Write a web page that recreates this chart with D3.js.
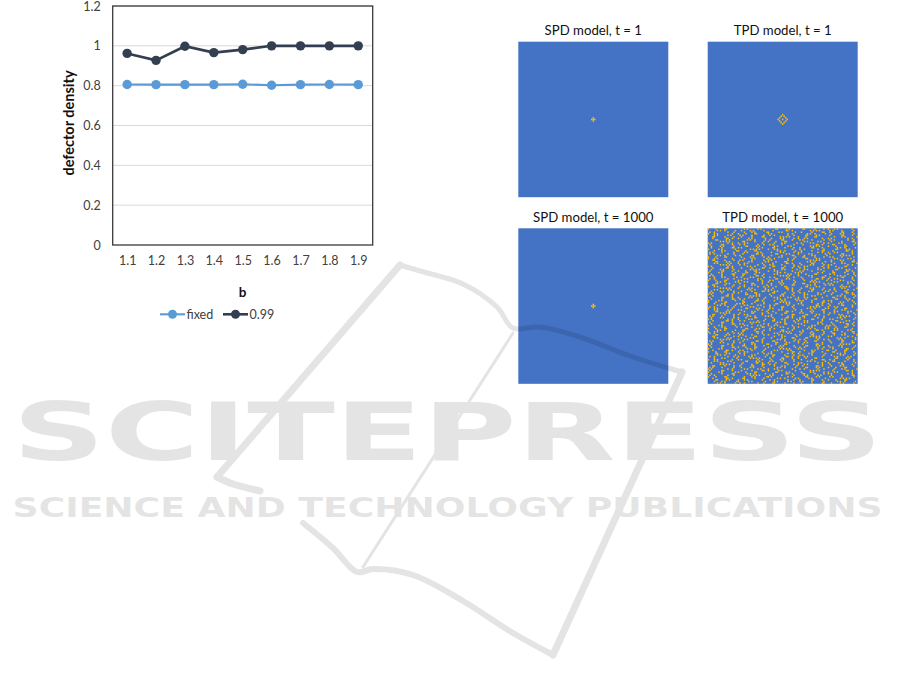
<!DOCTYPE html>
<html><head><meta charset="utf-8">
<script src="https://cdn.jsdelivr.net/npm/d3@7"></script>
<style>body{margin:0;background:#fff}svg{display:block}</style>
</head><body>
<svg id="c" width="901" height="691"></svg>
<script>
// ---------- data ----------
const bLabels = ["1.1","1.2","1.3","1.4","1.5","1.6","1.7","1.8","1.9"];
const fixedValues = [0.806,0.805,0.805,0.805,0.807,0.802,0.805,0.806,0.805];
const decayValues = [0.962,0.927,0.998,0.966,0.981,1.0,1.0,1.0,1.0];
const seriesNames = ["fixed","0.99"];
const yTicks = [0,0.2,0.4,0.6,0.8,1,1.2];
const yTickLabels = ["0","0.2","0.4","0.6","0.8","1","1.2"];
const xTitle = "b";
const yTitle = "defector density";

const panelTitles = ["SPD model, t = 1","TPD model, t = 1","SPD model, t = 1000","TPD model, t = 1000"];
// defector cells as offsets from the lattice centre
const spdT1Cells = [[0,0],[1,0],[-1,0],[0,1],[0,-1]];
const tpdT1Cells = [[0,0],[0,-3],[1,-2],[2,-1],[3,0],[2,1],[1,2],[0,3],[-1,2],[-2,1],[-3,0],[-2,-1],[-1,-2]];
const spdT1000Cells = [[0,0],[1,0],[-1,0],[0,1],[0,-1]];
// TPD t = 1000 lattice (100 x 100), encoded as rows of 20-cell tiles (x = defector)
const tpdTiles = {
  A:"x....x.....xx.......", B:"..x.....x.x......x..", C:".x..x........x...x..", D:"...xx......x.....x..",
  E:"x......x.x........x.", F:"....x.x......x.x....", G:".x.......xx.....x...", H:"......x.x..x......x.",
  I:"x.x..........x..x...", J:"....x....x.x.......x", K:".....xx.....x.x.....", L:"..x......x......xx..",
  M:"x...x.x.........x...", N:"...x........xx..x...", O:".x.x.....x.......x..", P:"........x.x.x.x....."
};
const tpdRows = ["AFKDM","HBNPO","CJELG","MAIHB","FOCKG","DLPAJ","NEBMI","KHGOC","PDAFL","IMJBE",
  "GCOND","BKFPA","LIDGH","EPMCK","JAHLN","OFBIM","CNKEG","HGLJP","ABEDO","MJCKF",
  "DOIPB","KEAHL","FMNGJ","PCOBI","IHDMA","NLGCE","BPJFK","GAMON","EKHID","LDFAC",
  "ONPEH","JBCLG","CFKNM","AIOJB","HMEPF","KGBDI","DJLHO","MCAKP","PENBJ","FHIGC",
  "BLMEA","OADCN","IKGFL","NPBJH","GEFMD","LCHAK","ENJOI","ADPLB","JOKIE","HFCNG",
  "CBGPM","MKOHA","FIELJ","KJNBF","PGAOC","DMLKE","OHIDP","BANCH","IEJGO","NCDMK",
  "GPHFB","LOAIN","EFMJC","JLBEA","AKCHM","HDGNF","MNPOL","CIFBD","KOEGJ","DAJPI",
  "FBLKH","PMHCE","ONDAG","BGKML","IJANP","GDBKE","LAECO","EHPIN","NOFJA","AMLGD",
  "KCIEH","HJDOB","CENMF","JPGAK","MIBLC","FKOHD","BNAIE","PLCMG","DGJNB","OBHKA",
  "IFMCJ","GLEPN","EAKBM","LHNDI","CPOFL","AJIKO","NDHEP","KMCGA","JEFOH","HCDLB"];

const watermarkBig = "SCITEPRESS";
const watermarkSmall = "SCIENCE AND TECHNOLOGY PUBLICATIONS";

// ---------- drawing ----------
const svg = d3.select("#c");
const FONT = "Lato, 'Open Sans', sans-serif";
const plot = {l:112.7, r:372.7, t:6, b:245};

const x = d3.scalePoint().domain(bLabels).range([plot.l, plot.r]).padding(0.5);
const y = d3.scaleLinear().domain([0,1.2]).range([plot.b, plot.t]);

const g = svg.append("g");
// gridlines
g.selectAll(".grid").data(yTicks.filter(d=>d>0)).join("line")
  .attr("x1",plot.l).attr("x2",plot.r).attr("y1",d=>y(d)).attr("y2",d=>y(d))
  .attr("stroke","#d9d9d9").attr("stroke-width",1);
// frame
g.append("rect").attr("x",plot.l).attr("y",plot.t).attr("width",plot.r-plot.l).attr("height",plot.b-plot.t)
  .attr("fill","none").attr("stroke","#3a3a3a").attr("stroke-width",1.3);

// y axis labels
const yAxis = d3.axisLeft(y).tickValues(yTicks).tickFormat((d,i)=>yTickLabels[i]).tickSize(0).tickPadding(12);
g.append("g").attr("transform",`translate(${plot.l},0)`).call(yAxis)
  .call(s=>s.select(".domain").remove())
  .selectAll("text").attr("font-family",FONT).attr("font-size",12.5).attr("fill","#404040");
// x axis labels
const xAxis = d3.axisBottom(x).tickSize(0).tickPadding(11);
g.append("g").attr("transform",`translate(0,${plot.b})`).call(xAxis)
  .call(s=>s.select(".domain").remove())
  .selectAll("text").attr("font-family",FONT).attr("font-size",12.5).attr("fill","#404040");

// titles
g.append("text").attr("x",(plot.l+plot.r)/2).attr("y",297).attr("text-anchor","middle")
  .attr("font-family",FONT).attr("font-weight","bold").attr("font-size",13.5).attr("fill","#111").text(xTitle);
g.append("text").attr("transform",`translate(68,123) rotate(-90)`).attr("text-anchor","middle")
  .attr("dominant-baseline","central")
  .attr("font-family",FONT).attr("font-weight","bold").attr("font-size",14.5).attr("fill","#111").text(yTitle);

// series
const series = [
  {name:seriesNames[0], values:fixedValues, color:"#5b9bd5", w:2.1},
  {name:seriesNames[1], values:decayValues, color:"#333f50", w:2.6}
];
const line = d3.line().x((d,i)=>x(bLabels[i])).y(d=>y(d));
series.forEach(s=>{
  g.append("path").datum(s.values).attr("d",line).attr("fill","none")
    .attr("stroke",s.color).attr("stroke-width",s.w);
  g.selectAll(null).data(s.values).join("circle")
    .attr("cx",(d,i)=>x(bLabels[i])).attr("cy",d=>y(d)).attr("r",4.7).attr("fill",s.color);
});

// legend
const legendX = [160, 223];
series.forEach((s,i)=>{
  const lg = g.append("g").attr("transform",`translate(${legendX[i]},314.3)`);
  lg.append("line").attr("x1",0).attr("x2",25).attr("stroke",s.color).attr("stroke-width",s.w);
  lg.append("circle").attr("cx",12.5).attr("r",4.5).attr("fill",s.color);
  lg.append("text").attr("x",26.5).attr("y",0).attr("dominant-baseline","central")
    .attr("font-family",FONT).attr("font-size",12.5).attr("fill","#404040").text(s.name);
});

// ---------- lattice panels ----------
const BLUE = "#4472c4", ORANGE = "#ffc000";
const panelW = 150, panelH = 155.5;
const panels = [
  {left:518.3, top:41.7, title:panelTitles[0], cells:spdT1Cells},
  {left:707.7, top:41.7, title:panelTitles[1], cells:tpdT1Cells},
  {left:518.3, top:228.3, title:panelTitles[2], cells:spdT1000Cells},
  {left:707.7, top:228.3, title:panelTitles[3], tiles:true}
];
panels.forEach(p=>{
  const pg = svg.append("g");
  pg.append("rect").attr("x",p.left).attr("y",p.top).attr("width",panelW).attr("height",panelH).attr("fill",BLUE);
  pg.append("text").attr("x",p.left+panelW/2).attr("y",p.top-6.8).attr("text-anchor","middle")
    .attr("font-family",FONT).attr("font-size",13.2).attr("fill","#111").text(p.title);
  if (p.cells){
    const n = 99, c = 49;
    const cx = d3.scaleBand().domain(d3.range(n)).range([p.left,p.left+panelW]);
    const cy = d3.scaleBand().domain(d3.range(n)).range([p.top,p.top+panelH]);
    pg.selectAll(null).data(p.cells).join("rect")
      .attr("x",d=>cx(c+d[0])).attr("y",d=>cy(c+d[1]))
      .attr("width",cx.bandwidth()).attr("height",cy.bandwidth()).attr("fill",ORANGE);
  } else {
    const grid = tpdRows.map(r=>r.split("").map(k=>tpdTiles[k]).join(""));
    const nc = grid[0].length, nr = grid.length;
    const cx = d3.scaleBand().domain(d3.range(nc)).range([p.left,p.left+panelW]);
    const cy = d3.scaleBand().domain(d3.range(nr)).range([p.top,p.top+panelH]);
    const cells = [];
    grid.forEach((row,ri)=>row.split("").forEach((ch,ci)=>{ if(ch==="x") cells.push([ci,ri]); }));
    pg.selectAll(null).data(cells).join("rect")
      .attr("x",d=>cx(d[0])).attr("y",d=>cy(d[1]))
      .attr("width",cx.bandwidth()).attr("height",cy.bandwidth()).attr("fill",ORANGE);
  }
});

// ---------- watermark ----------
const wm = svg.append("g").attr("opacity",0.1);
const curve = d3.line().curve(d3.curveCatmullRom.alpha(0.5));
const wmStroke = (pts,w)=>wm.append("path").attr("d",curve(pts)).attr("fill","none")
  .attr("stroke","#000").attr("stroke-width",w).attr("stroke-linecap","round").attr("stroke-linejoin","round");
// top edge of the page
wmStroke([[400,265],[420,271],[463,284],[497,307],[513,328],[540,327],[580,337],[630,356],[668,368],[682,372]],5);
// right edge
wmStroke([[682,372],[553,655]],7);
// bottom edge
wmStroke([[553,655],[513,633],[463,601],[413,575],[373,569],[357,572],[333,548],[303,523]],6);
// left flap
wmStroke([[400,265],[217,477]],7);
wmStroke([[217,477],[233,484],[260,491]],7);
// inner fold
wmStroke([[513,333],[363,567]],3);
wm.append("text").attr("x",12.6).attr("y",460).attr("textLength",870).attr("lengthAdjust","spacingAndGlyphs")
  .attr("font-family","'DejaVu Sans', sans-serif").attr("font-weight","bold").attr("font-size",80)
  .attr("fill","#000").text(watermarkBig);
wm.append("text").attr("x",12.6).attr("y",517).attr("textLength",870).attr("lengthAdjust","spacingAndGlyphs")
  .attr("font-family","'DejaVu Sans', sans-serif").attr("font-weight","bold").attr("font-size",26)
  .attr("fill","#000").text(watermarkSmall);
</script>
</body></html>
